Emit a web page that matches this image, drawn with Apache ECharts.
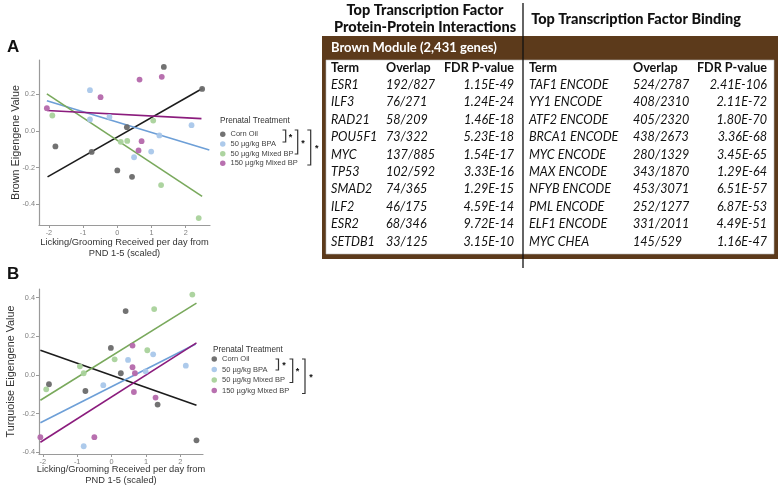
<!DOCTYPE html>
<html><head><meta charset="utf-8">
<script src="https://cdn.jsdelivr.net/npm/echarts@6/dist/echarts.min.js"></script>
<style>html,body{margin:0;padding:0;background:#fff}#c{width:780px;height:487px}</style>
</head><body><div id="c"></div>
<script>
// ---------- data ----------
const groups = ['Corn Oil', '50 µg/kg BPA', '50 µg/kg Mixed BP', '150 µg/kg Mixed BP'];
const xTicks = [-2, -1, 0, 1, 2];
const yTicksA = [-0.4, -0.2, 0.0, 0.2];
const yTicksB = [-0.4, -0.2, 0.0, 0.2, 0.4];

// Panel A (Brown eigengene) points
const brownCornOil = [[1.36,0.349],[2.48,0.229],[-1.81,-0.085],[-0.75,-0.115],[0.28,0.02],[0.0,-0.216],[0.43,-0.251]];
const brownBPA = [[-0.80,0.222],[-0.80,0.062],[-0.23,0.076],[1.23,-0.025],[0.99,-0.113],[0.49,-0.144],[2.17,0.031]];
const brownMixed50 = [[-1.90,0.084],[1.05,0.056],[0.10,-0.06],[0.29,-0.055],[1.28,-0.296],[2.38,-0.476]];
const brownMixed150 = [[-2.06,0.124],[-0.49,0.184],[0.65,0.28],[1.30,0.295],[0.71,-0.056],[0.62,-0.107]];
// Panel A fitted lines (endpoints)
const brownFitCornOil = [[-2.04,-0.251],[2.50,0.233]];
const brownFitBPA = [[-2.06,0.164],[2.69,-0.105]];
const brownFitMixed50 = [[-2.06,0.202],[2.48,-0.358]];
const brownFitMixed150 = [[-2.06,0.111],[2.46,0.067]];

// Panel B (Turquoise eigengene) points
const turqCornOil = [[0.41,0.331],[-0.02,0.140],[-1.82,-0.048],[-0.76,-0.083],[0.27,0.009],[1.34,-0.153],[2.47,-0.338]];
const turqBPA = [[0.48,0.078],[1.21,0.107],[2.16,0.048],[-0.24,-0.053],[-0.81,-0.369],[0.99,0.019]];
const turqMixed50 = [[2.35,0.416],[1.24,0.341],[1.04,0.128],[0.09,0.081],[-0.92,0.045],[-0.81,0.009],[-1.90,-0.074]];
const turqMixed150 = [[-2.07,-0.322],[-0.50,-0.322],[0.61,0.152],[0.61,0.040],[0.68,0.009],[0.65,-0.088],[1.28,-0.117]];
// Panel B fitted lines
const turqFitCornOil = [[-2.07,0.128],[2.47,-0.157]];
const turqFitBPA = [[-2.07,-0.247],[2.45,0.160]];
const turqFitMixed50 = [[-2.07,-0.131],[2.47,0.372]];
const turqFitMixed150 = [[-2.07,-0.348],[2.47,0.166]];

// Table
const ppiTerms = ['ESR1','ILF3','RAD21','POU5F1','MYC','TP53','SMAD2','ILF2','ESR2','SETDB1'];
const ppiOverlap = ['192/827','76/271','58/209','73/322','137/885','102/592','74/365','46/175','68/346','33/125'];
const ppiFdr = ['1.15E-49','1.24E-24','1.46E-18','5.23E-18','1.54E-17','3.33E-16','1.29E-15','4.59E-14','9.72E-14','3.15E-10'];
const tfbTerms = ['TAF1 ENCODE','YY1 ENCODE','ATF2 ENCODE','BRCA1 ENCODE','MYC ENCODE','MAX ENCODE','NFYB ENCODE','PML ENCODE','ELF1 ENCODE','MYC CHEA'];
const tfbOverlap = ['524/2787','408/2310','405/2320','438/2673','280/1329','343/1870','453/3071','252/1277','331/2011','145/529'];
const tfbFdr = ['2.41E-106','2.11E-72','1.80E-70','3.36E-68','3.45E-65','1.29E-64','6.51E-57','6.87E-53','4.49E-51','1.16E-47'];

// ---------- styles ----------
const pointColors = ['#6a6a6a', '#a9c7ea', '#a9d29b', '#b468ab'];
const lineColors = ['#1c1c1c', '#6d9fd7', '#79a95c', '#8b1c7d'];
const brown = '#5c3a1b';
const sansF = 'Liberation Sans';
const tblF = 'Lato';

const chart = echarts.init(document.getElementById('c'), null, {renderer: 'canvas'});

function axisX(idx, min, max, gap) {
  return {
    type: 'value', gridIndex: idx, min: min, max: max,
    name: 'Licking/Grooming Received per day from\nPND 1-5 (scaled)',
    nameLocation: 'middle', nameGap: gap, nameMoveOverlap: false,
    nameTextStyle: {fontFamily: sansF, fontSize: 9.3, color: '#333', lineHeight: 11, verticalAlign: 'top'},
    axisLine: {show: true, onZero: false, lineStyle: {color: '#9a9a9a', width: 1.2}},
    axisTick: {show: true, length: 3, customValues: xTicks, lineStyle: {color: '#9a9a9a'}},
    axisLabel: {customValues: xTicks, fontFamily: sansF, fontSize: 7.3, color: '#808080', margin: 4,
      formatter: v => String(Math.round(v))},
    splitLine: {show: false}
  };
}
function axisY(idx, min, max, ticks, name, gap) {
  return {
    type: 'value', gridIndex: idx, min: min, max: max,
    name: name, nameLocation: 'middle', nameGap: gap, nameMoveOverlap: false,
    nameTextStyle: {fontFamily: sansF, fontSize: 10.8, color: '#333'},
    axisLine: {show: true, onZero: false, lineStyle: {color: '#9a9a9a', width: 1.2}},
    axisTick: {show: true, length: 3, customValues: ticks, lineStyle: {color: '#9a9a9a'}},
    axisLabel: {customValues: ticks, fontFamily: sansF, fontSize: 7.3, color: '#808080', margin: 4,
      formatter: v => v.toFixed(1)},
    splitLine: {show: false}
  };
}

const ptsA = [brownCornOil, brownBPA, brownMixed50, brownMixed150];
const fitA = [brownFitCornOil, brownFitBPA, brownFitMixed50, brownFitMixed150];
const ptsB = [turqCornOil, turqBPA, turqMixed50, turqMixed150];
const fitB = [turqFitCornOil, turqFitBPA, turqFitMixed50, turqFitMixed150];

const series = [];
[[ptsA, fitA, 0], [ptsB, fitB, 1]].forEach(([pts, fits, gi]) => {
  groups.forEach((g, i) => {
    series.push({
      type: 'line', name: 'fit' + gi + '_' + i, xAxisIndex: gi, yAxisIndex: gi,
      data: fits[i], showSymbol: false, silent: true, z: 2,
      lineStyle: {color: lineColors[i], width: 1.6}
    });
  });
  groups.forEach((g, i) => {
    series.push({
      type: 'scatter', name: g, xAxisIndex: gi, yAxisIndex: gi,
      data: pts[i], symbolSize: 5.8, z: 3,
      itemStyle: {color: pointColors[i], opacity: 0.95}
    });
  });
});

// ---------- graphics ----------
const graphic = [];
function txt(x, y, s, o) {
  graphic.push({type: 'text', x: x, y: y, silent: true,
    style: Object.assign({text: s, fontFamily: sansF, fontSize: 10, fill: '#333', textVerticalAlign: 'middle'}, o || {})});
}
// panel letters
txt(7, 47, 'A', {fontSize: 17, fontWeight: 'bold', fill: '#111'});
txt(7, 274, 'B', {fontSize: 17, fontWeight: 'bold', fill: '#111'});
// legend titles
txt(220, 121, 'Prenatal Treatment', {fontSize: 8.2, fill: '#333'});
txt(213, 350, 'Prenatal Treatment', {fontSize: 8.2, fill: '#333'});

function bracket(xh, xv, y1, y2, sx, sy) {
  graphic.push({type: 'polyline', silent: true,
    shape: {points: [[xh, y1], [xv, y1], [xv, y2], [xh, y2]]},
    style: {stroke: '#333', lineWidth: 1.2, fill: null}});
  txt(sx, sy, '*', {fontSize: 9, fontWeight: 'bold', fill: '#111', textAlign: 'center'});
}
bracket(282.5, 285.7, 130, 142, 290.5, 138);
bracket(294.7, 297.7, 130, 154, 303, 144);
bracket(307.3, 310.7, 130, 165, 316.7, 149);
bracket(275.5, 278.5, 359, 370, 284, 366);
bracket(289.5, 292.7, 359, 382.5, 297.5, 372);
bracket(302, 305, 359, 393.5, 311, 377.5);

// table
graphic.push({type: 'line', silent: true, shape: {x1: 523, y1: 3, x2: 523, y2: 268}, style: {stroke: '#111', lineWidth: 1.3}, z: 10});
graphic.push({type: 'rect', silent: true, shape: {x: 322, y: 36, width: 456, height: 223}, style: {fill: brown}});
graphic.push({type: 'rect', silent: true, shape: {x: 326, y: 60, width: 448, height: 194}, style: {fill: '#fff', stroke: '#bbb', lineWidth: 0.6}});
const big = {fontFamily: tblF, fontSize: 14.5, fontWeight: 900, fill: '#111', textAlign: 'center'};
txt(425, 10, 'Top Transcription Factor', big);
txt(425, 27, 'Protein-Protein Interactions', big);
txt(636, 19, 'Top Transcription Factor Binding', big);
txt(331, 48, 'Brown Module (2,431 genes)', {fontFamily: tblF, fontSize: 13, fontWeight: 'bold', fill: '#fff'});

const hdrY = 68, row0 = 85, rowH = 17.4;
const hdr = {fontFamily: tblF, fontSize: 12.6, fontWeight: 'bold', fill: '#111'};
txt(331, hdrY, 'Term', hdr);
txt(386, hdrY, 'Overlap', hdr);
txt(514, hdrY, 'FDR P-value', Object.assign({textAlign: 'right'}, hdr));
txt(529, hdrY, 'Term', hdr);
txt(633, hdrY, 'Overlap', hdr);
txt(767, hdrY, 'FDR P-value', Object.assign({textAlign: 'right'}, hdr));
const cell = {fontFamily: tblF, fontSize: 12.6, fontStyle: 'italic', fill: '#111'};
ppiTerms.forEach((t, i) => {
  const y = row0 + i * rowH;
  txt(331, y, t, cell);
  txt(386, y, ppiOverlap[i], cell);
  txt(514, y, ppiFdr[i], Object.assign({textAlign: 'right'}, cell));
  txt(529, y, tfbTerms[i], cell);
  txt(633, y, tfbOverlap[i], cell);
  txt(767, y, tfbFdr[i], Object.assign({textAlign: 'right'}, cell));
});

const legendText = {fontFamily: sansF, fontSize: 7.5, color: '#444'};
const legendCommon = {
  orient: 'vertical', icon: 'circle', itemWidth: 5.5, itemHeight: 5.5, itemGap: 0, padding: 0,
  selectedMode: false, data: groups
};

chart.setOption({
  animation: false,
  backgroundColor: '#fff',
  grid: [
    {left: 39, top: 60, width: 171, height: 165},
    {left: 39, top: 289, width: 164, height: 165}
  ],
  xAxis: [axisX(0, -2.29, 2.71, 12), axisX(1, -2.11, 2.66, 10)],
  yAxis: [
    axisY(0, -0.514, 0.387, yTicksA, 'Brown Eigengene Value', 17.5),
    axisY(1, -0.409, 0.445, yTicksB, 'Turquoise Eigengene Value', 22.5)
  ],
  legend: [
    Object.assign({left: 220, top: 129.4, textStyle: Object.assign({lineHeight: 9.7}, legendText)}, legendCommon),
    Object.assign({left: 211.5, top: 353.8, textStyle: Object.assign({lineHeight: 10.5}, legendText)}, legendCommon)
  ],
  series: series,
  graphic: graphic
});
</script></body></html>
